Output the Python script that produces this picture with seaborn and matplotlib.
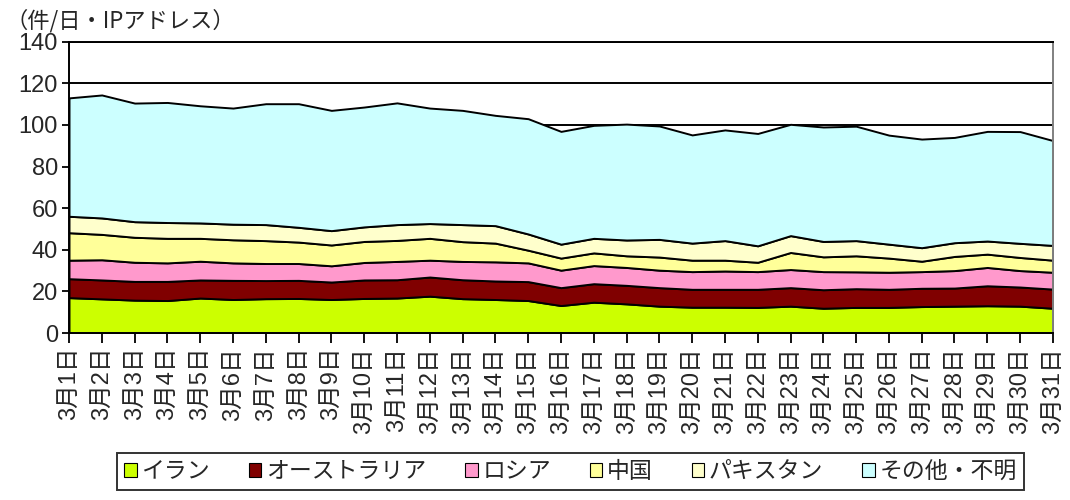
import numpy as np
import pandas as pd
import matplotlib
matplotlib.use("Agg")
import matplotlib.pyplot as plt
import seaborn as sns

# ==========================================================
# DATA
# ==========================================================

days = [f"3月{d}日" for d in range(1, 32)]

iran = [17.0, 16.4, 15.8, 15.6, 16.8, 16.1, 16.5, 16.6, 16.1, 16.6, 16.8,
        17.7, 16.5, 16.1, 15.6, 13.2, 14.8, 14.0, 12.9, 12.4, 12.4, 12.3,
        12.9, 11.9, 12.3, 12.3, 12.7, 12.9, 13.1, 12.9, 11.9]

australia = [9.1, 9.1, 9.0, 9.2, 8.7, 9.2, 8.7, 8.7, 8.4, 8.9, 8.8,
             9.2, 9.1, 8.9, 9.1, 8.6, 8.9, 8.9, 8.9, 8.6, 8.6, 8.7,
             8.9, 8.9, 9.0, 8.7, 8.8, 8.7, 9.6, 9.2, 9.2]

russia = [8.9, 9.7, 9.2, 8.9, 9.0, 8.4, 8.2, 8.1, 7.8, 8.4, 8.8,
          8.1, 8.8, 9.2, 9.0, 8.4, 8.7, 8.6, 8.4, 8.5, 8.8, 8.5,
          8.7, 8.7, 8.1, 8.2, 8.0, 8.4, 8.8, 7.9, 8.1]

china = [13.2, 12.2, 12.0, 11.8, 11.0, 11.1, 11.0, 10.3, 10.0, 10.1, 10.1,
         10.5, 9.5, 9.0, 6.1, 5.8, 6.1, 5.6, 6.3, 5.5, 5.2, 4.5,
         8.2, 7.1, 7.7, 6.8, 5.0, 6.8, 6.4, 6.3, 5.8]

pakistan = [7.9, 7.9, 7.5, 7.6, 7.4, 7.5, 7.7, 7.1, 6.9, 7.0, 7.6,
            7.1, 8.2, 8.4, 7.8, 6.7, 7.0, 7.6, 8.5, 8.2, 9.4, 7.9,
            8.1, 7.4, 7.3, 6.7, 6.5, 6.6, 6.3, 6.8, 7.1]

other = [56.9, 59.1, 57.0, 57.7, 56.3, 55.8, 58.1, 59.4, 57.8, 57.6, 58.5,
         55.5, 54.9, 53.0, 55.4, 54.2, 54.3, 55.7, 54.5, 52.0, 53.2, 54.0,
         53.5, 55.0, 55.0, 52.4, 52.2, 50.6, 52.7, 53.7, 50.4]

series_names = ["イラン", "オーストラリア", "ロシア", "中国", "パキスタン", "その他・不明"]

colors = ["#CCFF00", "#800000", "#FF99CC", "#FFFF99", "#FFFFCC", "#CCFFFF"]

# ==========================================================
# STYLE
# ==========================================================

sns.set_theme(style="white")

plt.rcParams["font.family"] = ["Liberation Sans", "Noto Sans CJK JP", "DejaVu Sans"]

df = pd.DataFrame({
    "日": days,
    "イラン": iran,
    "オーストラリア": australia,
    "ロシア": russia,
    "中国": china,
    "パキスタン": pakistan,
    "その他・不明": other
})

x = np.arange(len(days))

# ==========================================================
# PLOT
# ==========================================================

fig = plt.figure(figsize=(10.7, 5.0), dpi=100)

ax = fig.add_axes([0.0645, 0.334, 0.9195, 0.5826])

ax.set_axisbelow(True)

ax.yaxis.grid(True, color="black", linewidth=1.4)
ax.xaxis.grid(False)

ax.stackplot(
    x,
    [df[name].values for name in series_names],
    colors=colors,
    labels=series_names,
    edgecolor="black",
    linewidth=1.4
)

ax.set_xlim(0, len(days) - 1)
ax.set_ylim(0, 140)

ax.set_yticks(range(0, 141, 20))
ax.set_xticks(x)
ax.set_xticklabels(days, rotation=90, fontsize=17)

ax.tick_params(axis="y", labelsize=17, length=5, width=1.3, color="black",
               direction="out", left=True, pad=3)
ax.tick_params(axis="x", length=7, width=1.3, color="black",
               direction="out", bottom=True, pad=3)

for side in ["left", "bottom", "right", "top"]:
    ax.spines[side].set_color("black")
    ax.spines[side].set_linewidth(1.4)
ax.spines["right"].set_color("#808080")

fig.text(0.005, 0.935, "（件/日・IPアドレス）", fontsize=16,
         family=["Noto Sans CJK JP", "DejaVu Sans"], ha="left", va="bottom")

# ==========================================================
# LEGEND
# ==========================================================

handles, labels = ax.get_legend_handles_labels()

leg = fig.legend(
    handles,
    labels,
    loc="center",
    bbox_to_anchor=(0.533, 0.057),
    ncol=6,
    frameon=True,
    fancybox=False,
    edgecolor="black",
    handlelength=0.55,
    handleheight=0.55,
    handletextpad=0.2,
    columnspacing=1.7,
    borderpad=0.3,
    prop={"family": ["Noto Sans CJK JP", "DejaVu Sans"], "size": 16.5}
)

leg.get_frame().set_linewidth(1.4)

for h in leg.legend_handles:
    h.set_edgecolor("black")
    h.set_linewidth(0.8)

fig.savefig("out.png", dpi=100)
